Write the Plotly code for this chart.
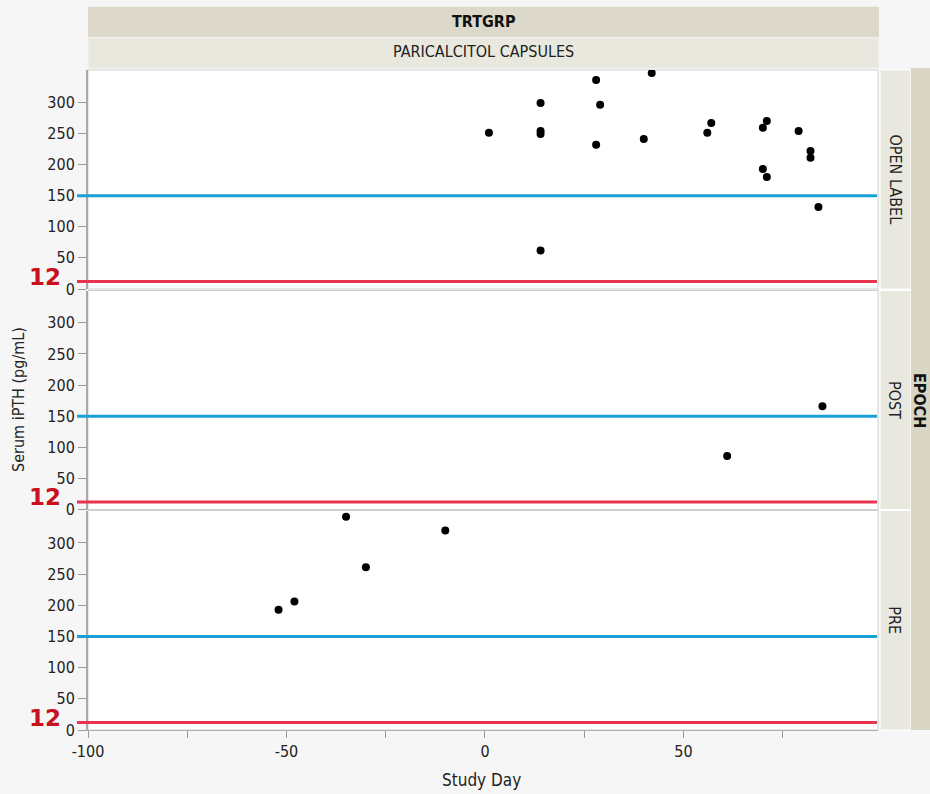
import plotly.graph_objects as go

# ---- data ----
epochs = ["OPEN LABEL", "POST", "PRE"]
open_day = [1, 14, 14, 14, 14, 28, 29, 28, 42, 40, 57, 56, 71, 70, 79, 82, 82, 70, 71, 84]
open_pth = [251, 299, 254, 249, 62, 336, 296, 232, 347, 241, 267, 251, 270, 259, 254, 222, 211, 193, 180, 132]
post_day = [61, 85]
post_pth = [86, 166]
pre_day = [-52, -48, -35, -30, -10]
pre_pth = [193, 206, 342, 261, 320]
upper_ref = 150
lower_ref = 12
x_ticks = [-100, -50, 0, 50]
x_tick_text = ["-100", "-50", "0", "50"]
y_ticks = [0, 50, 100, 150, 200, 250, 300]

series = [(open_day, open_pth), (post_day, post_pth), (pre_day, pre_pth)]

# ---- layout geometry (pixels) ----
W, H = 930, 794
L, R, T, B = 88, 52, 70, 64
pw = W - L - R
ph = H - T - B
def py(y):  # pixel y -> paper
    return (H - B - y) / ph
def px(x):
    return (x - L) / pw

panel_px = [(70, 289), (290.5, 509.5), (510.5, 730)]
FONT = "DejaVu Sans Condensed, Roboto, sans-serif"

fig = go.Figure()
axis_names = ["y", "y2", "y3"]
for i, (d, v) in enumerate(series):
    fig.add_trace(go.Scatter(x=d, y=v, mode="markers", xaxis="x", yaxis=axis_names[i],
                             marker=dict(color="black", size=8), showlegend=False,
                             hoverinfo="x+y"))

layout = dict(
    width=W, height=H,
    margin=dict(l=L, r=R, t=T, b=B),
    paper_bgcolor="#f6f6f6", plot_bgcolor="white",
    font=dict(family=FONT, size=15, color="#222"),
    xaxis=dict(range=[-100, 99], anchor="y3", tickvals=x_ticks, ticktext=x_tick_text,
               ticks="outside", ticklen=7, automargin=False,
               tickcolor="#999", showgrid=False, zeroline=False, showline=True,
               linecolor="#b0b0b0", linewidth=1, mirror=False,
               minor=dict(dtick=25, tick0=-100, ticks="outside", ticklen=7, tickcolor="#999", showgrid=False),
               tickfont=dict(size=16, family=FONT)),
)
for i, name in enumerate(axis_names):
    top, bot = panel_px[i]
    key = "yaxis" if i == 0 else f"yaxis{i+1}"
    layout[key] = dict(domain=[max(0, py(bot)), min(1, py(top))], range=[0, 352], anchor="x",
                       tickvals=y_ticks, ticks="outside", ticklen=8, tickcolor="#999",
                       automargin=False,
                       showgrid=False, zeroline=False, showline=True, linecolor="#a8a8a8",
                       linewidth=2, mirror=False, tickfont=dict(size=16, family=FONT))
fig.update_layout(**layout)

shapes = []
annotations = []
for i, name in enumerate(axis_names):
    top, bot = panel_px[i]
    # panel border
    shapes.append(dict(type="rect", xref="paper", yref="paper", x0=0, x1=1,
                       y0=py(bot), y1=py(top), line=dict(color="#cfcfcf", width=1), layer="below"))
    # reference lines
    shapes.append(dict(type="line", xref="paper", yref=name, x0=px(77), x1=px(877),
                       y0=upper_ref, y1=upper_ref, line=dict(color="#1aa0d6", width=3)))
    shapes.append(dict(type="line", xref="paper", yref=name, x0=px(77), x1=px(877),
                       y0=lower_ref, y1=lower_ref, line=dict(color="#e8334f", width=3)))
    annotations.append(dict(xref="paper", yref=name, x=px(63), y=lower_ref, text=f"<b>{lower_ref}</b>",
                            showarrow=False, xanchor="right", yanchor="middle", yshift=5,
                            font=dict(color="#c8101e", size=23, family="DejaVu Sans, Roboto, sans-serif")))
    # right inner strip
    shapes.append(dict(type="rect", xref="paper", yref="paper", x0=px(880), x1=px(911),
                       y0=py(bot), y1=py(top), fillcolor="#e9e8df", line=dict(color="white", width=1)))
    annotations.append(dict(xref="paper", yref="paper", x=px(895), y=py((top + bot) / 2),
                            xanchor="center", yanchor="middle",
                            text=epochs[i], textangle=90, showarrow=False,
                            font=dict(size=16, family=FONT, color="#222")))

# outer EPOCH strip
shapes.append(dict(type="rect", xref="paper", yref="paper", x0=px(911), x1=px(935),
                   y0=py(730), y1=py(68), fillcolor="#d9d6c6", line=dict(width=0)))
annotations.append(dict(xref="paper", yref="paper", x=px(920), y=py(400), text="<b>EPOCH</b>",
                        xanchor="center", yanchor="middle",
                        textangle=90, showarrow=False, font=dict(size=16, family=FONT, color="#111")))
# top strips
shapes.append(dict(type="rect", xref="paper", yref="paper", x0=0, x1=px(879),
                   y0=py(37.7), y1=py(6.7), fillcolor="#dcd9ca", line=dict(width=0)))
shapes.append(dict(type="rect", xref="paper", yref="paper", x0=0, x1=px(879),
                   y0=py(68.5), y1=py(37.7), fillcolor="#e9e8df", line=dict(color="#f4f4f0", width=1)))
annotations.append(dict(xref="paper", yref="paper", x=px(483), y=py(21), text="<b>TRTGRP</b>",
                        xanchor="center", yanchor="middle",
                        showarrow=False, font=dict(size=16, family=FONT, color="#111")))
annotations.append(dict(xref="paper", yref="paper", x=px(483), y=py(52), text="PARICALCITOL CAPSULES",
                        xanchor="center", yanchor="middle",
                        showarrow=False, font=dict(size=16, family=FONT, color="#222")))
# axis titles
annotations.append(dict(xref="paper", yref="paper", x=px(18), y=py(400), text="Serum iPTH (pg/mL)",
                        xanchor="center", yanchor="middle",
                        textangle=-90, showarrow=False, font=dict(size=16, family=FONT, color="#222")))
annotations.append(dict(xref="paper", yref="paper", x=px(481), y=py(780), text="Study Day",
                        xanchor="center", yanchor="middle",
                        showarrow=False, font=dict(size=17, family=FONT, color="#222")))

fig.update_layout(shapes=shapes, annotations=annotations)
fig.write_html("out.html")
